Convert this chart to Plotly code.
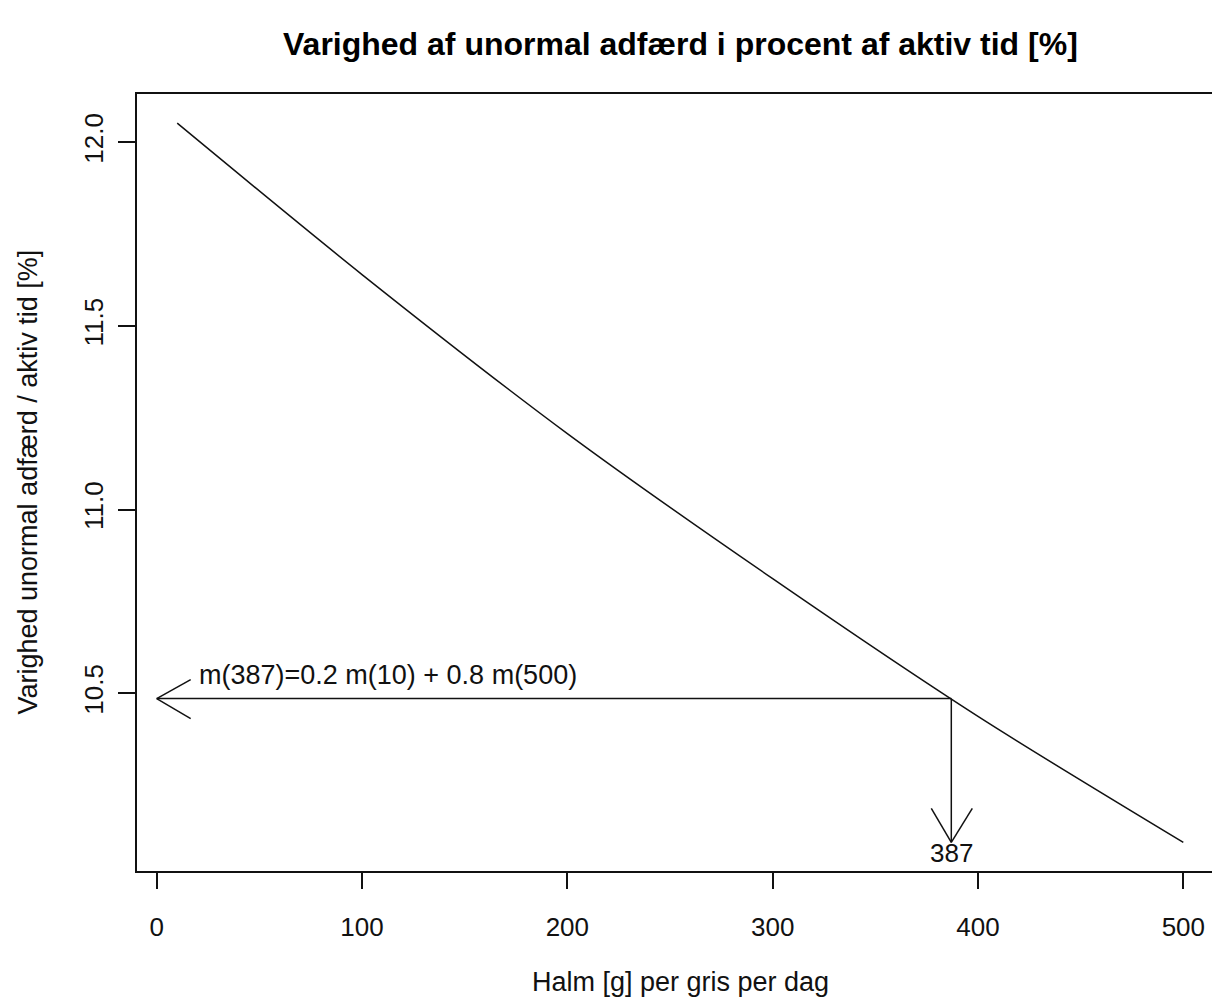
import plotly.graph_objects as go

# Data
halm = [10, 100, 200, 300, 400, 500]
varighed = [12.052, 11.64, 11.207, 10.812, 10.437, 10.094]
x_tick_vals = [0, 100, 200, 300, 400, 500]
x_tick_text = ["0", "100", "200", "300", "400", "500"]
y_tick_vals = [10.5, 11.0, 11.5, 12.0]
y_tick_text = ["10.5", "11.0", "11.5", "12.0"]
x_mark = 387
w_low, w_high = 0.2, 0.8
m_mark = w_low * varighed[0] + w_high * varighed[-1]

title_text = "Varighed af unormal adfærd i procent af aktiv tid [%]"
x_title = "Halm [g] per gris per dag"
y_title = "Varighed unormal adfærd / aktiv tid [%]"
formula_text = "m(387)=0.2 m(10) + 0.8 m(500)"

FONT = "Arial, Liberation Sans, sans-serif"
INK = "#111111"

fig = go.Figure()
fig.add_trace(go.Scatter(x=halm, y=varighed, mode="lines",
                         line=dict(color=INK, width=1.5, shape="spline", smoothing=0.8),
                         hoverinfo="skip", showlegend=False))
# horizontal arrow shaft and vertical arrow shaft
fig.add_trace(go.Scatter(x=[x_mark, 0], y=[m_mark, m_mark], mode="lines",
                         line=dict(color=INK, width=1.5), showlegend=False, hoverinfo="skip"))
fig.add_trace(go.Scatter(x=[x_mark, x_mark], y=[m_mark, varighed[-1]], mode="lines",
                         line=dict(color=INK, width=1.5), showlegend=False, hoverinfo="skip"))

head = dict(type="line", xref="x", yref="y", xsizemode="pixel", ysizemode="pixel",
            line=dict(color=INK, width=1.5))
shapes = [
    dict(head, xanchor=0, yanchor=m_mark, x0=0, y0=0, x1=34, y1=19),
    dict(head, xanchor=0, yanchor=m_mark, x0=0, y0=0, x1=34, y1=-20),
    dict(head, xanchor=x_mark, yanchor=varighed[-1], x0=0, y0=0, x1=-20, y1=34),
    dict(head, xanchor=x_mark, yanchor=varighed[-1], x0=0, y0=0, x1=21, y1=34),
]

x_range = [-9.59, 513.97]
y_range = [10.0162, 12.1315]
x_full_mid = 255

annotations = [
    dict(text=formula_text, x=19.5, y=10.55, xref="x", yref="y", xanchor="left",
         yanchor="middle", showarrow=False, font=dict(size=27, color=INK, family=FONT)),
    dict(text=str(x_mark), x=x_mark, y=10.065, xref="x", yref="y", xanchor="center",
         yanchor="middle", showarrow=False, font=dict(size=26, color=INK, family=FONT)),
    dict(text="<b>" + title_text + "</b>", x=x_full_mid, y=1, xref="x", yref="paper",
         yanchor="middle", yshift=94 - 44, showarrow=False,
         font=dict(size=32, color="#000000", family=FONT)),
    dict(text=x_title, x=x_full_mid, y=0, xref="x", yref="paper", yanchor="middle",
         yshift=-111, showarrow=False, font=dict(size=27, color=INK, family=FONT)),
    dict(text=y_title, x=0, y=0.5, xref="paper", yref="paper", xanchor="center",
         xshift=-110, textangle=-90, showarrow=False, font=dict(size=27, color=INK, family=FONT)),
]

fig.update_layout(
    width=1212, height=998,
    margin=dict(l=137, r=0, t=94, b=127),
    paper_bgcolor="white", plot_bgcolor="white",
    shapes=shapes, annotations=annotations,
    font=dict(family=FONT, size=26, color=INK),
    xaxis=dict(range=x_range, tickvals=x_tick_vals, ticktext=x_tick_text,
               showgrid=False, zeroline=False, showline=True, mirror=True,
               linecolor=INK, linewidth=1.5, ticks="outside", ticklen=16,
               tickwidth=1.5, tickcolor=INK, tickfont=dict(size=26, family=FONT, color=INK),
               ticklabelstandoff=16),
    yaxis=dict(range=y_range, tickvals=y_tick_vals, ticktext=y_tick_text,
               showgrid=False, zeroline=False, showline=True, mirror=False,
               linecolor=INK, linewidth=1.5, ticks="outside", ticklen=17,
               tickwidth=1.5, tickcolor=INK, tickangle=-90,
               tickfont=dict(size=26, family=FONT, color=INK), ticklabelstandoff=5),
)

fig.write_html("out.html")
